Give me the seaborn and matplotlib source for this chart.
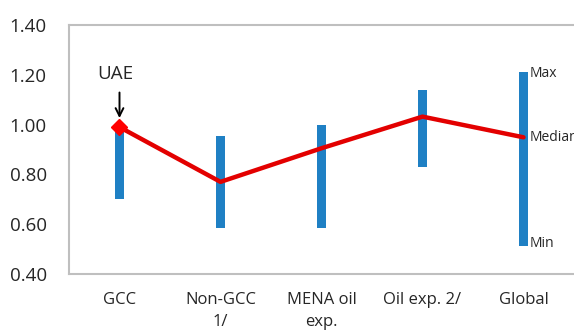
import matplotlib
matplotlib.use("Agg")
import matplotlib.pyplot as plt
import seaborn as sns
import pandas as pd
import numpy as np

# data
groups = ["GCC", "Non-GCC\n1/", "MENA oil\nexp.", "Oil exp. 2/", "Global"]
min_vals = [0.70, 0.585, 0.585, 0.828, 0.513]
max_vals = [0.995, 0.955, 0.998, 1.139, 1.212]
median_vals = [0.99, 0.77, 0.905, 1.032, 0.949]
uae_val = 0.99

sns.set_style("white")
plt.rcParams["font.family"] = ["Open Sans", "DejaVu Sans"]

df = pd.DataFrame({"group": groups, "lo": min_vals, "hi": max_vals, "med": median_vals})

fig = plt.figure(figsize=(5.74, 3.31), dpi=100)
ax = fig.add_axes([69 / 574, 57 / 331, 507 / 574, 249 / 331])

xpos = np.arange(len(groups))
ax.bar(xpos, df["hi"] - df["lo"], bottom=df["lo"], width=0.094, color="#1F80C4",
       linewidth=0, zorder=2)
sns.lineplot(x=xpos, y=df["med"], ax=ax, color="#E30000", linewidth=3.2, zorder=3)
ax.plot([0], [uae_val], marker="D", color="#FF0000", markersize=8, linestyle="none", zorder=4)

# UAE callout
ax.text(-0.04, 1.205, "UAE", ha="center", va="center", fontsize=13.5)
ax.annotate("", xy=(0, uae_val + 0.025), xytext=(0, 1.14),
            arrowprops=dict(arrowstyle="->", color="black", lw=1.4, mutation_scale=14))

gx = len(groups) - 1 + 0.06
ax.text(gx, max_vals[-1] - 0.005, "Max", fontsize=10, va="center", ha="left")
ax.text(gx, median_vals[-1], "Median", fontsize=10, va="center", ha="left")
ax.text(gx, min_vals[-1] + 0.01, "Min", fontsize=10, va="center", ha="left")

ax.set_xlim(-0.5, 4.52)
ax.set_ylim(0.40, 1.40)
ax.set_yticks([0.4, 0.6, 0.8, 1.0, 1.2, 1.4])
ax.set_yticklabels([f"{v:.2f}" for v in [0.4, 0.6, 0.8, 1.0, 1.2, 1.4]], fontsize=13.5)
ax.set_xticks(xpos)
ax.set_xticklabels(groups, fontsize=12, linespacing=1.5, va="top")
ax.tick_params(axis="x", length=0, pad=13)
ax.tick_params(axis="y", length=0, pad=16)
for s in ax.spines.values():
    s.set_color("#BFBFBF")
    s.set_linewidth(1.5)
ax.set_xlabel("")
ax.set_ylabel("")

fig.savefig("out.png", dpi=100)
